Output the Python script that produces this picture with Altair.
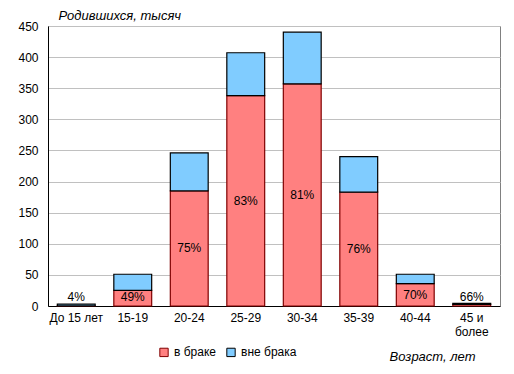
import altair as alt
import pandas as pd

ages = ["До 15 лет", "15-19", "20-24", "25-29", "30-34", "35-39", "40-44", "45 и более"]
married = [0.12, 25, 185, 338, 357, 183, 36, 2.6]
unmarried = [3.0, 26, 61, 69, 83, 57, 15, 1.6]
pct_labels = ["4%", "49%", "75%", "83%", "81%", "76%", "70%", "66%"]
statuses = ["в браке", "вне брака"]

rows = []
for i, a in enumerate(ages):
    rows.append({"age": a, "status": statuses[0], "value": married[i], "ord": 0})
    rows.append({"age": a, "status": statuses[1], "value": unmarried[i], "ord": 1})
df = pd.DataFrame(rows)

lab = pd.DataFrame({
    "age": ages,
    "label": pct_labels,
    "ypos": [max(m / 2, 14) for m in married],
})

FONT = "Liberation Sans"

x = alt.X("age:N", sort=ages, title="Возраст, лет",
          scale=alt.Scale(paddingInner=0.33, paddingOuter=0.165),
          axis=alt.Axis(labelAngle=0, labelFont=FONT, labelFontSize=12, labelColor="black",
                        labelPadding=6, ticks=False, domainColor="black",
                        labelExpr="datum.label == '45 и более' ? ['45 и', 'более'] : datum.label",
                        titleFont=FONT, titleFontSize=13, titleFontStyle="italic",
                        titleFontWeight="normal", titleColor="black",
                        titleX=427, titleY=50, titleAlign="right", titleBaseline="middle",
                        titleAnchor=None))

yaxis = alt.Axis(values=list(range(0, 451, 50)), labelFont=FONT, labelFontSize=12,
                 labelColor="black", ticks=False, labelPadding=10, domainColor="black",
                 labelOverlap=False,
                 gridColor="#C0C0C0", titleFont=FONT, titleFontSize=13,
                 titleFontStyle="italic", titleFontWeight="normal", titleColor="black",
                 titleAngle=0, titleX=10, titleY=-11, titleAlign="left",
                 titleBaseline="middle")
yscale = alt.Scale(domain=[0, 450], nice=False)

bars = alt.Chart(df).mark_bar(strokeWidth=1.2).encode(
    x=x,
    y=alt.Y("value:Q", stack="zero", title="Родившихся, тысяч", scale=yscale, axis=yaxis),
    color=alt.Color("status:N", sort=statuses,
                    scale=alt.Scale(domain=statuses, range=["#FF8080", "#80CCFF"]),
                    legend=alt.Legend(title=None, orient="none", direction="horizontal",
                                      legendX=110, legendY=320, symbolType="square",
                                      symbolSize=70, symbolStrokeColor="black",
                                      symbolStrokeWidth=1, labelFont=FONT, labelFontSize=12,
                                      labelColor="black", columnPadding=8, labelOffset=4)),
    stroke=alt.Stroke("status:N", scale=alt.Scale(domain=statuses, range=["#800000", "black"]),
                      legend=None),
    order=alt.Order("ord:Q"),
)

texts = alt.Chart(lab).mark_text(font=FONT, fontSize=12, color="black", baseline="middle").encode(
    x=alt.X("age:N", sort=ages),
    y=alt.Y("ypos:Q", title="Родившихся, тысяч", scale=yscale, axis=yaxis),
    text="label:N",
)

chart = (bars + texts).properties(
    width=452, height=280,
    autosize=alt.AutoSizeParams(type="none"),
    padding={"left": 40, "top": 18, "right": 6, "bottom": 60},
).configure_view(stroke="#808080", strokeWidth=1)

chart.save("out.html", embed_options={"renderer": "svg", "actions": False})
